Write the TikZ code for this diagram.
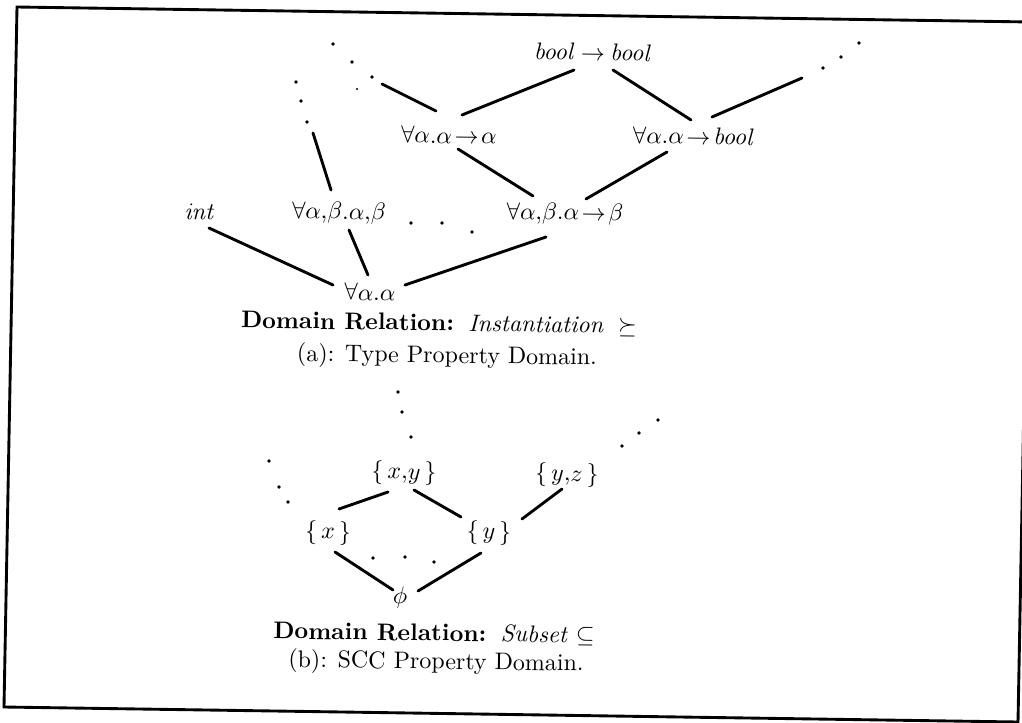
\documentclass[tikz,border=0pt]{standalone}
\usetikzlibrary{calc}
\newcommand{\tarrow}{\mathrel{\mkern-3mu\rightarrow\mkern-3mu}}
\newcommand{\tcomma}{{,}}
\begin{document}
\begin{tikzpicture}[x=0.417pt,y=-0.417pt,
  lbl/.style={inner sep=0pt, rotate=-0.8, font=\fontsize{10}{12}\selectfont},
  edge/.style={line width=1.2pt, line cap=round},
  dot/.style={circle, fill=black, inner sep=0pt, minimum size=1.6pt},
  smalldot/.style={circle, fill=black, inner sep=0pt, minimum size=1.0pt},
  frame/.style={line width=1.2pt}]
\useasboundingbox (0,0) rectangle (1022,723);
\clip (0,0) rectangle (1022,723);
\draw[frame] (17,7) -- (1031,22) -- (1018,722) -- (4,707) -- cycle;

% ---------- (a) type property domain ----------
\node[lbl] (bb)   at (593,52)  {$\mathit{bool}\mathrel{\mkern-1mu\rightarrow\mkern-1mu}\mathit{bool}$};
\node[lbl] (aa)   at (449,135) {$\forall\alpha.\alpha\tarrow\alpha$};
\node[lbl] (ab)   at (694,136) {$\forall\alpha.\alpha\tarrow\mathit{bool}$};
\node[lbl] (int)  at (200,212) {$\mathit{int}$};
\node[lbl] (abab) at (339,213) {$\forall\alpha\tcomma\beta.\alpha\tcomma\beta$};
\node[lbl] (abb)  at (565,214) {$\forall\alpha\tcomma\beta.\alpha\tarrow\beta$};
\node[lbl] (a)    at (370,292) {$\forall\alpha.\alpha$};

\node[dot] (tla) at (333,44) {};
\node[dot] (tlb) at (352,62) {};
\node[dot] (tlc) at (372,77) {};
\node[smalldot] (tld) at (357,89) {};
\node[dot] (la) at (296,82) {};
\node[dot] (lb) at (301,101) {};
\node[dot] (lc) at (307,122) {};
\node[dot] (tra) at (823,68) {};
\node[dot] (trb) at (841,57) {};
\node[dot] (trc) at (859,43) {};
\node[dot] (ma) at (411,223) {};
\node[dot] (mb) at (442,223) {};
\node[dot] (mc) at (472,232) {};

\draw[edge] ($(tlc)+(10,7)$) -- ($(aa)+(-13,-24)$);
\draw[edge] ($(aa)+(13,-20)$) -- ($(bb)+(-19,18)$);
\draw[edge] ($(bb)+(20,18)$) -- ($(ab)+(-3,-16)$);
\draw[edge] ($(ab)+(18,-19)$) -- ($(tra)+(-21,10)$);
\draw[edge] ($(lc)+(6,11)$) -- ($(abab)+(-8,-23)$);
\draw[edge] ($(aa)+(9,14)$) -- ($(abb)+(-32,-18)$);
\draw[edge] ($(ab)+(-27,16)$) -- ($(abb)+(21,-15)$);
\draw[edge] ($(int)+(9,16)$) -- ($(a)+(-37,-7)$);
\draw[edge] ($(abab)+(10,17)$) -- ($(a)+(-2,-17)$);
\draw[edge] ($(abb)+(-19,23)$) -- ($(a)+(35,-7)$);

\node[lbl] (cap1) at (439,324) {\textbf{Domain Relation:}\hspace{6pt}\textit{Instantiation}\hspace{6pt}$\succeq$};
\node[lbl] (sub1) at (447,357) {(a): Type Property Domain.};

% ---------- (b) SCC property domain ----------
\node[lbl] (xy)  at (404,473) {$\{\,x\tcomma y\,\}$};
\node[lbl] (yz)  at (567,475) {$\{\,y\tcomma z\,\}$};
\node[lbl] (x)   at (328,533) {$\{\,x\,\}$};
\node[lbl] (y)   at (489,533) {$\{\,y\,\}$};
\node[lbl] (phi) at (400,598) {$\phi$};

\node[dot] (va) at (398,392) {};
\node[dot] (vb) at (402,412) {};
\node[dot] (vc) at (411,437) {};
\node[dot] (bla) at (269,461) {};
\node[dot] (blb) at (279,487) {};
\node[dot] (blc) at (288,502) {};
\node[dot] (bra) at (622,446) {};
\node[dot] (brb) at (639,433) {};
\node[dot] (brc) at (658,420) {};
\node[dot] (bma) at (373,558) {};
\node[dot] (bmb) at (405,557) {};
\node[dot] (bmc) at (434,562) {};

\draw[edge] ($(xy)+(-16,19)$) -- ($(x)+(11,-24)$);
\draw[edge] ($(xy)+(10,17)$) -- ($(y)+(-28,-16)$);
\draw[edge] ($(yz)+(-5,14)$) -- ($(y)+(33,-14)$);
\draw[edge] ($(x)+(7,19)$) -- ($(phi)+(-7,-8)$);
\draw[edge] ($(y)+(-8,20)$) -- ($(phi)+(18,-7)$);

\node[lbl] (cap2) at (434,634) {\textbf{Domain Relation:}\hspace{6pt}\textit{Subset}\ $\subseteq$};
\node[lbl] (sub2) at (436,663) {(b): SCC Property Domain.};
\end{tikzpicture}
\end{document}
